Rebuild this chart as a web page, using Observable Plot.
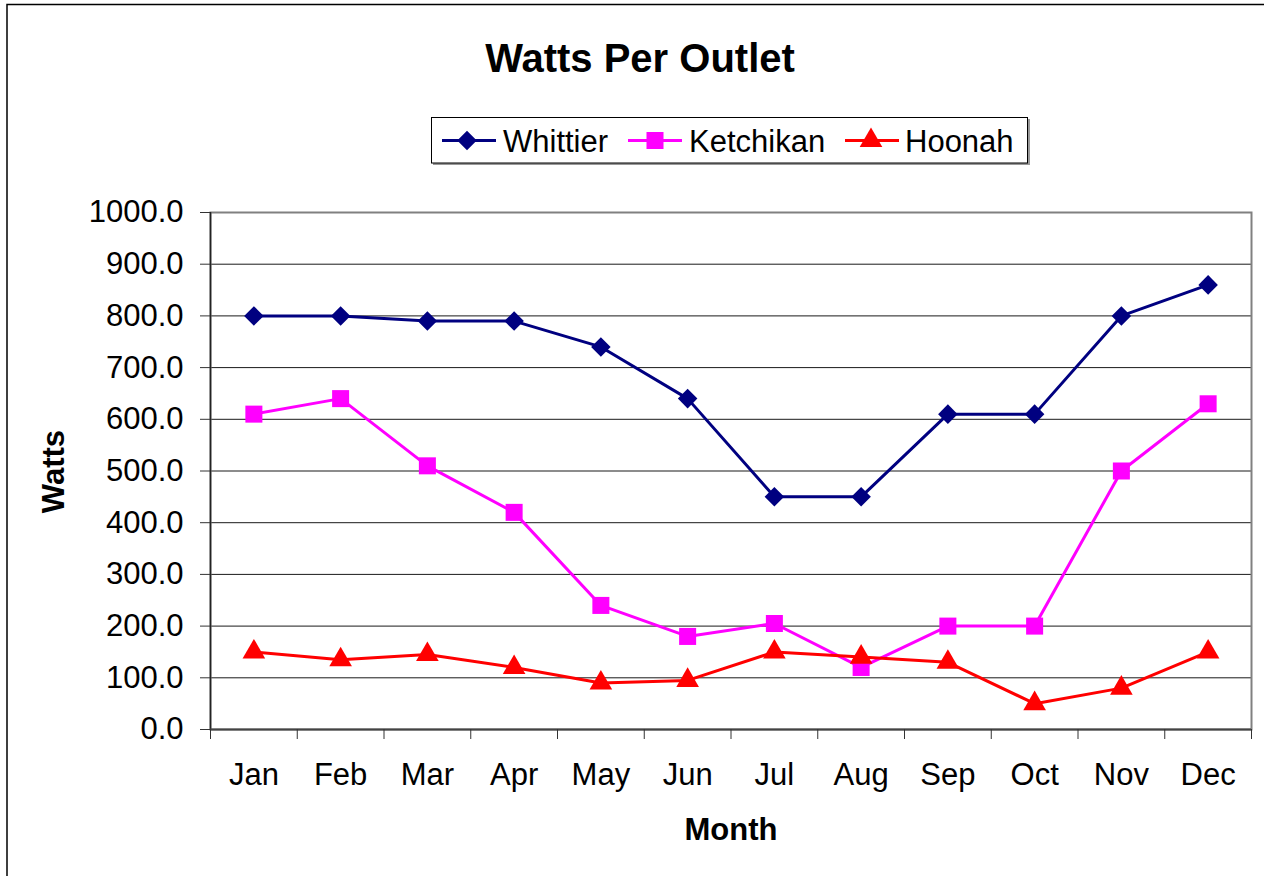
<!DOCTYPE html>
<html>
<head>
<meta charset="utf-8">
<script src="https://cdn.jsdelivr.net/npm/d3@7"></script>
<script src="https://cdn.jsdelivr.net/npm/@observablehq/plot@0.6"></script>
<style>
  html, body { margin: 0; padding: 0; background: #fff; overflow: hidden; }
  #chart { width: 1264px; height: 876px; }
</style>
</head>
<body>
<div id="chart"></div>
<script>
const months = ["Jan","Feb","Mar","Apr","May","Jun","Jul","Aug","Sep","Oct","Nov","Dec"];
const whittier  = [800, 800, 790, 790, 740, 640, 450, 450, 610, 610, 800, 860];
const ketchikan = [610, 640, 510, 420, 240, 180, 205, 120, 200, 200, 500, 630];
const hoonah    = [150, 135, 145, 120,  90,  95, 150, 140, 130,  50,  80, 150];
const yTicks = [0,100,200,300,400,500,600,700,800,900,1000];
const seriesNames = ["Whittier", "Ketchikan", "Hoonah"];
const seriesColors = ["#000080", "#FF00FF", "#FF0000"];
const seriesSymbols = ["diamond2", "square", "triangle"];
const seriesR = [8.8, 9.6, 8.4];
const seriesValues = [whittier, ketchikan, hoonah];

const FONT = "'Liberation Sans', Arial, Helvetica, sans-serif";

const marks = [
  Plot.gridY(yTicks.filter(d => d > 0 && d < 1000), {stroke: "#000", strokeOpacity: 0.9, strokeWidth: 1}),
  Plot.frame({stroke: "#808080", strokeWidth: 2}),
  Plot.ruleX([-0.5], {stroke: "#222", strokeWidth: 1.5}),
  Plot.ruleY([0], {stroke: "#444", strokeWidth: 2}),
  Plot.axisY({ticks: yTicks, tickSize: 10, tickPadding: 17, tickFormat: d => d.toFixed(1), fontSize: 31, label: null, stroke: "#333"}),
  Plot.axisX({ticks: d3.range(13).map(i => i - 0.5), tickSize: 10, tickFormat: () => "", label: null, stroke: "#333"}),
  Plot.axisX({ticks: d3.range(12), tickSize: 0, tickPadding: 33, tickFormat: i => months[i], fontSize: 31, label: null})
];

seriesValues.forEach((vals, s) => {
  const rows = vals.map((v, i) => ({i, v}));
  marks.push(Plot.line(rows, {x: "i", y: "v", stroke: seriesColors[s], strokeWidth: 3}));
});
seriesValues.forEach((vals, s) => {
  const rows = vals.map((v, i) => ({i, v}));
  marks.push(Plot.dot(rows, {x: "i", y: "v", symbol: seriesSymbols[s], fill: seriesColors[s], stroke: "none", r: seriesR[s]}));
});

const chart = Plot.plot({
  width: 1264,
  height: 876,
  marginLeft: 210,
  marginRight: 13,
  marginTop: 212,
  marginBottom: 147,
  style: {fontFamily: FONT, fontSize: "31px", color: "#000", background: "#fff", overflow: "visible"},
  x: {type: "linear", domain: [-0.5, 11.5], axis: null},
  y: {domain: [0, 1000], axis: null},
  marks
});
document.getElementById("chart").appendChild(chart);

const svg = d3.select(chart);
// outer chart-area border (left & top)
svg.append("path").attr("d", "M7,876V4.5H1264").attr("fill", "none").attr("stroke", "#000").attr("stroke-width", 1.5);

// title
svg.append("text").attr("x", 640).attr("y", 72).attr("text-anchor", "middle")
  .attr("font-family", FONT).attr("font-weight", "bold").attr("font-size", 40).attr("fill", "#000")
  .text("Watts Per Outlet");

// axis titles
svg.append("text").attr("transform", "translate(64,471.5) rotate(-90)").attr("text-anchor", "middle")
  .attr("font-family", FONT).attr("font-weight", "bold").attr("font-size", 31).attr("fill", "#000")
  .text("Watts");
svg.append("text").attr("x", 731).attr("y", 839.5).attr("text-anchor", "middle")
  .attr("font-family", FONT).attr("font-weight", "bold").attr("font-size", 31).attr("fill", "#000")
  .text("Month");

// legend
const lg = svg.append("g");
lg.append("rect").attr("x", 433).attr("y", 119).attr("width", 597).attr("height", 46).attr("fill", "#999");
lg.append("rect").attr("x", 431.5).attr("y", 117.5).attr("width", 596).attr("height", 45.5).attr("fill", "#fff").attr("stroke", "#000").attr("stroke-width", 1);
const legendItems = [
  {x0: 442, x1: 496, mx: 467, tx: 503},
  {x0: 628, x1: 682, mx: 655, tx: 689},
  {x0: 845, x1: 899, mx: 871, tx: 905}
];
const symMap = {diamond2: d3.symbolDiamond2, square: d3.symbolSquare, triangle: d3.symbolTriangle};
legendItems.forEach((it, s) => {
  lg.append("line").attr("x1", it.x0).attr("x2", it.x1).attr("y1", 140.5).attr("y2", 140.5)
    .attr("stroke", seriesColors[s]).attr("stroke-width", 3);
  lg.append("path").attr("transform", `translate(${it.mx},140.5)`)
    .attr("d", d3.symbol(symMap[seriesSymbols[s]], seriesR[s] * seriesR[s] * Math.PI)())
    .attr("fill", seriesColors[s]);
  lg.append("text").attr("x", it.tx).attr("y", 151.5).attr("text-anchor", "start")
    .attr("font-family", FONT).attr("font-size", 31).attr("fill", "#000")
    .text(seriesNames[s]);
});
</script>
</body>
</html>
